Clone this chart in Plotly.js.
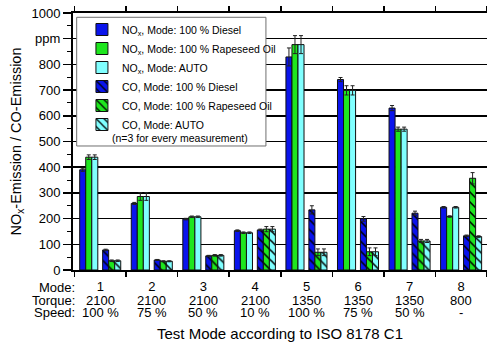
<!DOCTYPE html>
<html>
<head>
<meta charset="utf-8">
<script src="https://cdn.plot.ly/plotly-3.0.1.min.js"></script>
<style>
html,body{margin:0;padding:0;background:#fff;}
#chart{width:487px;height:345px;}
</style>
</head>
<body>
<div id="chart"></div>
<script>
// ---- data ----
const modes = [1, 2, 3, 4, 5, 6, 7, 8];
const modeLabels = ['1', '2', '3', '4', '5', '6', '7', '8'];
const torqueLabels = ['2100', '2100', '2100', '2100', '1350', '1350', '1350', '800'];
const speedLabels = ['100 %', '75 %', '50 %', '10 %', '100 %', '75 %', '50 %', '-'];
const rowHeaders = ['Mode:', 'Torque:', 'Speed:'];
const yTickValues = [0, 100, 200, 300, 400, 500, 600, 700, 800, 900, 1000];
const yTickLabels = ['0', '100', '200', '300', '400', '500', '600', '700', '800', 'ppm', '1000'];

const noxDiesel    = [390, 259, 198, 153, 829, 741, 630, 244];
const noxDieselErr = [6, 4, 3, 3, 35, 8, 10, 3];
const noxRape      = [439, 286, 207, 145, 877, 699, 548, 208];
const noxRapeErr   = [9, 15, 3, 3, 35, 18, 8, 3];
const noxAuto      = [439, 286, 207, 145, 877, 699, 548, 244];
const noxAutoErr   = [9, 15, 3, 3, 35, 18, 8, 3];
const coDiesel     = [78, 39, 55, 156, 234, 199, 221, 133];
const coDieselErr  = [3, 2, 2, 3, 16, 9, 8, 3];
const coRape       = [36, 34, 57, 159, 69, 71, 113, 357];
const coRapeErr    = [3, 2, 3, 10, 13, 15, 6, 22];
const coAuto       = [36, 34, 57, 159, 69, 71, 113, 130];
const coAutoErr    = [3, 2, 3, 10, 13, 15, 6, 3];

const seriesNames = [
  'NO<sub>x</sub>, Mode: 100 % Diesel',
  'NO<sub>x</sub>, Mode: 100 % Rapeseed Oil',
  'NO<sub>x</sub>, Mode: AUTO',
  'CO, Mode: 100 % Diesel',
  'CO, Mode: 100 % Rapeseed Oil',
  'CO, Mode: AUTO'
];
const noteText = '(n=3 for every measurement)';

// ---- style ----
const BLUE = '#0a14ec', GREEN = '#1ee61e', CYAN = '#80ffff';
const FONT = 'Liberation Sans, Arial, sans-serif';
const BW = 0.117;

function bar(name, y, err, color, offset, hatched) {
  const marker = {color: color, line: {color: '#101010', width: 1}};
  if (hatched) {
    marker.pattern = {shape: '\\', fgcolor: '#000000', bgcolor: color, size: 7, solidity: 0.22, fillmode: 'replace'};
  }
  return {
    type: 'bar', name: name, x: modes, y: y,
    width: BW, offset: offset,
    marker: marker,
    error_y: {type: 'data', array: err, visible: true, color: '#222', thickness: 1, width: 2},
    hoverinfo: 'skip'
  };
}

const data = [
  bar(seriesNames[0], noxDiesel, noxDieselErr, BLUE, -0.400, false),
  bar(seriesNames[1], noxRape, noxRapeErr, GREEN, -0.283, false),
  bar(seriesNames[2], noxAuto, noxAutoErr, CYAN, -0.166, false),
  bar(seriesNames[3], coDiesel, coDieselErr, BLUE, 0.045, true),
  bar(seriesNames[4], coRape, coRapeErr, GREEN, 0.162, true),
  bar(seriesNames[5], coAuto, coAutoErr, CYAN, 0.279, true)
];

const annotations = [];
const extraRows = [torqueLabels, speedLabels];
const rowShift = [-17.3, -30, -42.7];
rowHeaders.forEach((h, r) => {
  annotations.push({xref: 'paper', yref: 'paper', x: 0, y: 0, xanchor: 'right', yanchor: 'middle',
    xshift: 4, yshift: rowShift[r], text: h, showarrow: false,
    font: {family: FONT, size: 13, color: '#000'}});
});
extraRows.forEach((labels, r) => {
  labels.forEach((t, i) => {
    annotations.push({xref: 'x', yref: 'paper', x: modes[i], y: 0, xanchor: 'center', yanchor: 'middle',
      yshift: rowShift[r + 1], text: t, showarrow: false,
      font: {family: FONT, size: 13, color: '#000'}});
  });
});
annotations.push({xref: 'paper', yref: 'paper', x: 0.0894, y: 0.5136, xanchor: 'left', yanchor: 'middle',
  text: noteText, showarrow: false, font: {family: FONT, size: 10.5, color: '#000'}});

const layout = {
  width: 487, height: 345,
  margin: {l: 73, r: 0, t: 13, b: 75, pad: 0},
  paper_bgcolor: '#fff', plot_bgcolor: '#fff',
  barmode: 'overlay',
  showlegend: true,
  font: {family: FONT, size: 13, color: '#000'},
  xaxis: {
    range: [0.47, 8.5], tickmode: 'array', tickvals: modes, ticktext: modeLabels, showticklabels: true,
    ticks: 'outside', ticklen: 3, tickcolor: 'rgba(0,0,0,0)',
    tickfont: {family: FONT, size: 13, color: '#000'},
    showgrid: false, zeroline: false,
    showline: true, linecolor: '#000', linewidth: 2, mirror: 'ticks',
    minor: {tick0: 0.5, dtick: 1, ticks: 'outside', ticklen: 5, tickwidth: 1.5, tickcolor: '#000', showgrid: false},
    title: {text: 'Test Mode according to ISO 8178 C1', font: {family: FONT, size: 15, color: '#000'}, standoff: 36},
    fixedrange: true
  },
  yaxis: {
    range: [0, 1000], tickmode: 'array', tickvals: yTickValues, ticktext: yTickLabels,
    ticks: 'outside', ticklen: 8, tickwidth: 1.5, tickcolor: '#000',
    showgrid: true, gridcolor: '#000', gridwidth: 1.5, zeroline: false,
    showline: true, linecolor: '#000', linewidth: 2,
    minor: {dtick: 50, ticks: 'outside', ticklen: 4, tickwidth: 1, tickcolor: '#000', showgrid: false},
    tickfont: {family: FONT, size: 13, color: '#000'},
    title: {text: 'NO<sub>x</sub>-Emission / CO-Emission', font: {family: FONT, size: 14.5, color: '#000'}, standoff: 6},
    fixedrange: true
  },
  legend: {
    x: 0.0216, y: 0.9922, xanchor: 'left', yanchor: 'top',
    bgcolor: 'rgba(0,0,0,0)', borderwidth: 0,
    font: {family: FONT, size: 10.5, color: '#000'},
    tracegroupgap: 0, traceorder: 'normal'
  },
  shapes: [{
    type: 'rect', xref: 'paper', yref: 'paper', layer: 'above',
    x0: 0.0089, x1: 0.466, y0: 0.4825, y1: 0.9833,
    fillcolor: '#ffffff', line: {color: '#707070', width: 1}
  }],
  annotations: annotations
};

Plotly.newPlot('chart', data, layout, {staticPlot: true, displayModeBar: false});
</script>
</body>
</html>
